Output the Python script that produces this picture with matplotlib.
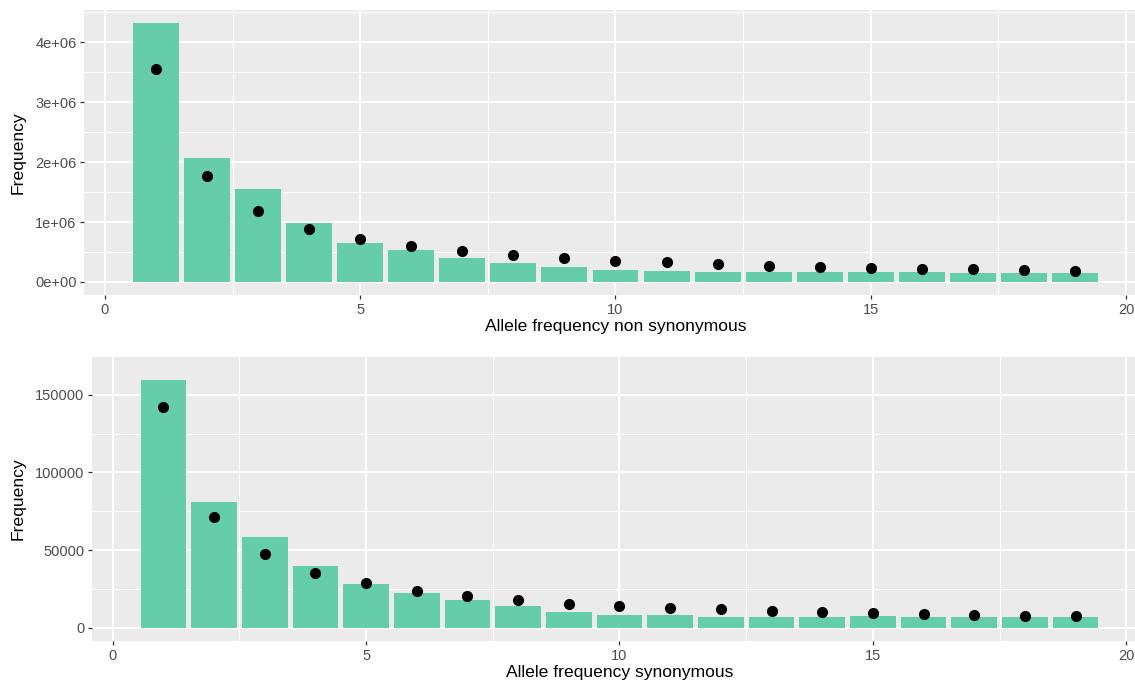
import matplotlib
matplotlib.use("Agg")
import matplotlib.pyplot as plt
import numpy as np

# allele count classes 1..19
allele_count = list(range(1, 20))

# non synonymous: observed counts (bars) and expected (dots)
nonsyn_obs = [4.32e6, 2.07e6, 1.55e6, 0.98e6, 0.65e6, 0.53e6, 0.40e6, 0.317e6,
              0.25e6, 0.20e6, 0.183e6, 0.167e6, 0.167e6, 0.167e6, 0.167e6,
              0.167e6, 0.15e6, 0.15e6, 0.15e6]
nonsyn_exp = [3.55e6, 1.77e6, 1.18e6, 0.88e6, 0.71e6, 0.595e6, 0.51e6, 0.445e6,
              0.40e6, 0.355e6, 0.328e6, 0.30e6, 0.272e6, 0.256e6, 0.239e6,
              0.222e6, 0.211e6, 0.20e6, 0.189e6]

# synonymous
syn_obs = [159400, 81000, 58200, 39700, 28000, 22600, 17700, 14000, 10300,
           8400, 8400, 7200, 7200, 7200, 7800, 7200, 7200, 7200, 7200]
syn_exp = [142300, 71200, 47500, 35600, 28600, 23800, 20300, 17800, 15600,
           14200, 12900, 11900, 10900, 10100, 9500, 8900, 8400, 7900, 7500]

x_ticks = [0, 5, 10, 15, 20]
nonsyn_yticks = [0, 1e6, 2e6, 3e6, 4e6]
nonsyn_ylabels = ["0e+00", "1e+06", "2e+06", "3e+06", "4e+06"]
syn_yticks = [0, 50000, 100000, 150000]
syn_ylabels = ["0", "50000", "100000", "150000"]

plt.rcParams['font.family'] = ['Liberation Sans', 'DejaVu Sans']

W, H = 1135, 686
fig = plt.figure(figsize=(W / 100, H / 100), dpi=100)

bar_col = "#66CDAA"
bg = "#EBEBEB"


def panel(rect, obs, exp, yticks, ylabels, ylim, xlabel, ylab_x):
    ax = fig.add_axes(rect)
    ax.set_facecolor(bg)
    for s in ax.spines.values():
        s.set_visible(False)
    ax.bar(allele_count, obs, width=0.9, color=bar_col, zorder=3)
    ax.plot(allele_count, exp, 'o', color='black', ms=7, zorder=4)
    ax.set_xlim(-0.41, 20.43)
    ax.set_ylim(*ylim)
    ax.set_xticks(x_ticks)
    ax.set_xticklabels([str(t) for t in x_ticks])
    ax.set_xticks([2.5, 7.5, 12.5, 17.5], minor=True)
    ax.set_yticks(yticks)
    ax.set_yticklabels(ylabels)
    step = yticks[1] - yticks[0]
    ax.set_yticks([t + step / 2 for t in yticks], minor=True)
    ax.grid(which='major', color='white', lw=1.4, zorder=1)
    ax.grid(which='minor', color='white', lw=0.7, zorder=1)
    ax.tick_params(which='major', length=3, width=0.9, color='#333333',
                   labelcolor='#4D4D4D', labelsize=10.5, pad=2.4)
    ax.tick_params(which='minor', length=0)
    ax.set_xlabel(xlabel, fontsize=12.6, va='center')
    ax.set_ylabel("Frequency", fontsize=12.6, va='center')
    ax.xaxis.set_label_coords(0.5, -0.112)
    ax.yaxis.set_label_coords(ylab_x, 0.5)
    return ax


panel([84 / W, (H - 295) / H, (1148 - 84) / W, 285 / H],
      nonsyn_obs, nonsyn_exp, nonsyn_yticks, nonsyn_ylabels,
      (-0.217e6, 4.535e6), "Allele frequency non synonymous",
      (18 - 84) / (1148 - 84))
panel([92 / W, (H - 641) / H, (1148 - 92) / W, 285 / H],
      syn_obs, syn_exp, syn_yticks, syn_ylabels,
      (-8500, 167500), "Allele frequency synonymous",
      (18 - 92) / (1148 - 92))

fig.savefig("out.png", dpi=100)
